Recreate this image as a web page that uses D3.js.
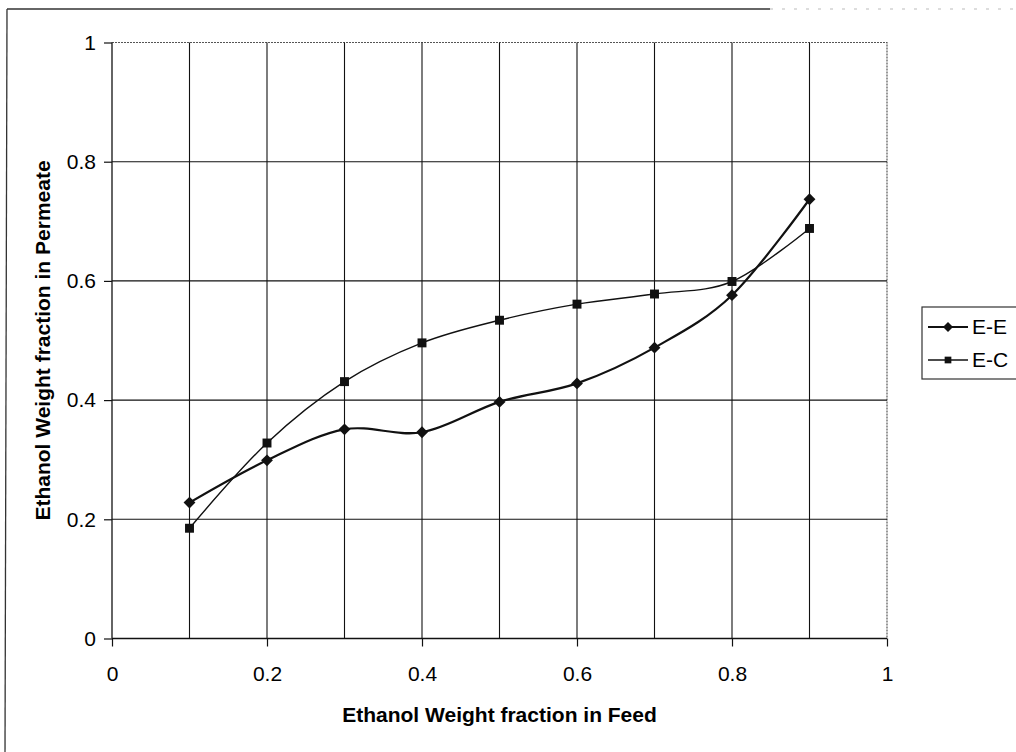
<!DOCTYPE html>
<html>
<head>
<meta charset="utf-8">
<script src="https://cdn.jsdelivr.net/npm/d3@7"></script>
<style>
  html, body { margin: 0; padding: 0; background: #fff; }
  svg { display: block; font-family: "Liberation Sans", Arial, sans-serif; }
</style>
</head>
<body>
<svg id="chart" width="1016" height="752"></svg>
<script>
// data
const feed = [0.1, 0.2, 0.3, 0.4, 0.5, 0.6, 0.7, 0.8, 0.9];
const seriesEE = [0.228, 0.299, 0.351, 0.346, 0.397, 0.428, 0.488, 0.576, 0.737];
const seriesEC = [0.185, 0.328, 0.431, 0.496, 0.534, 0.561, 0.578, 0.599, 0.688];
const seriesNames = ['E-E', 'E-C'];
const xTicks = [0, 0.2, 0.4, 0.6, 0.8, 1];
const yTicks = [0, 0.2, 0.4, 0.6, 0.8, 1];
const xGrid = [0.1, 0.2, 0.3, 0.4, 0.5, 0.6, 0.7, 0.8, 0.9];
const yGrid = [0.2, 0.4, 0.6, 0.8];

const svg = d3.select('#chart');
const ink = '#111';

const x = d3.scaleLinear().domain([0, 1]).range([112, 887]);
const y = d3.scaleLinear().domain([0, 1]).range([638.5, 42.5]);

// outer frame (scanned, only left + top visible)
svg.append('line').attr('x1', 7).attr('y1', 9).attr('x2', 5).attr('y2', 752)
  .attr('stroke', '#333').attr('stroke-width', 1.3);
svg.append('line').attr('x1', 7).attr('y1', 9).attr('x2', 770).attr('y2', 9)
  .attr('stroke', '#333').attr('stroke-width', 1.3);
svg.append('line').attr('x1', 770).attr('y1', 9).attr('x2', 1016).attr('y2', 9)
  .attr('stroke', '#bbb').attr('stroke-width', 1).attr('stroke-dasharray', '3,9');

const plot = svg.append('g');

// plot area border top/right (dotted)
plot.append('path')
  .attr('d', `M${x(0)},${y(1)}H${x(1)}V${y(0)}`)
  .attr('fill', 'none').attr('stroke', '#555').attr('stroke-width', 1.2)
  .attr('stroke-dasharray', '2,1');

// gridlines
plot.append('g').selectAll('line').data(xGrid).enter().append('line')
  .attr('x1', d => x(d)).attr('x2', d => x(d))
  .attr('y1', y(1)).attr('y2', y(0))
  .attr('stroke', ink).attr('stroke-width', 1.1);
plot.append('g').selectAll('line').data(yGrid).enter().append('line')
  .attr('x1', x(0)).attr('x2', x(1))
  .attr('y1', d => y(d)).attr('y2', d => y(d))
  .attr('stroke', ink).attr('stroke-width', 1.1);

// axes
const xAxis = d3.axisBottom(x).tickValues(xTicks).tickFormat(d3.format('')).tickSize(8).tickPadding(20);
const yAxis = d3.axisLeft(y).tickValues(yTicks).tickFormat(d3.format('')).tickSize(8).tickPadding(8);

const gx = svg.append('g').attr('transform', `translate(0,${y(0)})`).call(xAxis);
const gy = svg.append('g').attr('transform', `translate(${x(0)},0)`).call(yAxis);
[gx, gy].forEach(g => {
  g.select('.domain').attr('stroke', ink).attr('stroke-width', 1.3);
  g.selectAll('.tick line').attr('stroke', ink).attr('stroke-width', 1.2);
  g.selectAll('.tick text').attr('fill', '#000')
    .attr('font-size', '21px').attr('font-family', '"Liberation Sans", Arial, sans-serif');
});
gx.select('.domain').attr('d', `M${x(0)},0H${x(1)}`);
gy.select('.domain').attr('d', `M0,${y(0)}V${y(1)}`);

// axis titles
svg.append('text')
  .attr('x', (x(0) + x(1)) / 2).attr('y', 722)
  .attr('text-anchor', 'middle')
  .attr('font-size', '21px').attr('font-weight', 'bold')
  .text('Ethanol Weight fraction in Feed');
svg.append('text')
  .attr('transform', `translate(50,${(y(0) + y(1)) / 2}) rotate(-90)`)
  .attr('text-anchor', 'middle')
  .attr('font-size', '21px').attr('font-weight', 'bold')
  .text('Ethanol Weight fraction in Permeate');

// series
const smooth = d3.line().curve(d3.curveCardinal.tension(0))
  .x(d => x(d[0])).y(d => y(d[1]));

const ptsEE = feed.map((f, i) => [f, seriesEE[i]]);
const ptsEC = feed.map((f, i) => [f, seriesEC[i]]);

plot.append('path').datum(ptsEC).attr('d', smooth)
  .attr('fill', 'none').attr('stroke', ink).attr('stroke-width', 1.4);
plot.append('path').datum(ptsEE).attr('d', smooth)
  .attr('fill', 'none').attr('stroke', ink).attr('stroke-width', 2.2);

const diamond = d3.symbol().type(d3.symbolSquare).size(70);
const square = d3.symbol().type(d3.symbolSquare).size(80);

plot.append('g').selectAll('path').data(ptsEC).enter().append('path')
  .attr('d', square)
  .attr('transform', d => `translate(${x(d[0])},${y(d[1])})`)
  .attr('fill', ink);
plot.append('g').selectAll('path').data(ptsEE).enter().append('path')
  .attr('d', diamond)
  .attr('transform', d => `translate(${x(d[0])},${y(d[1])}) rotate(45)`)
  .attr('fill', ink);

// legend
const legend = svg.append('g').attr('transform', 'translate(922,307)');
legend.append('rect').attr('x', 0).attr('y', 0).attr('width', 120).attr('height', 72)
  .attr('fill', '#fff').attr('stroke', '#333').attr('stroke-width', 1.2);
const items = legend.selectAll('.legend-item').data(seriesNames).enter().append('g')
  .attr('class', 'legend-item')
  .attr('transform', (_, i) => `translate(0,${20 + i * 33})`);
items.append('line').attr('x1', 6).attr('x2', 46).attr('y1', 0).attr('y2', 0)
  .attr('stroke', ink).attr('stroke-width', (_, i) => i === 0 ? 2 : 1.4);
items.append('path')
  .attr('d', (_, i) => i === 0 ? d3.symbol().type(d3.symbolSquare).size(50)() : d3.symbol().type(d3.symbolSquare).size(45)())
  .attr('transform', (_, i) => i === 0 ? 'translate(26,0) rotate(45)' : 'translate(26,0)')
  .attr('fill', ink);
items.append('text').attr('x', 50).attr('y', 7)
  .attr('font-size', '21px').attr('fill', '#000')
  .text(d => d);
</script>
</body>
</html>
